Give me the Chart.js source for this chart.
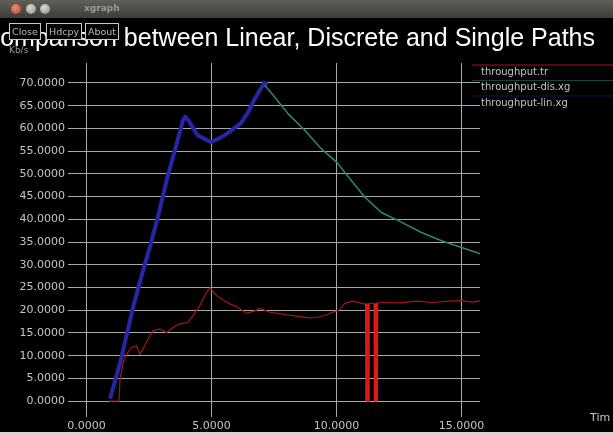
<!DOCTYPE html>
<html>
<head>
<meta charset="utf-8">
<script src="https://cdn.jsdelivr.net/npm/chart.js@4.4.1/dist/chart.umd.min.js"></script>
<style>
  html, body { margin: 0; padding: 0; background: #000; }
  #win { position: relative; width: 613px; height: 435px; background: #000; overflow: hidden; font-family: 'DejaVu Sans', sans-serif; }
  #chart { position: absolute; left: 0; top: 0; }
  #titlebar { position: absolute; left: 0; top: 0; width: 613px; height: 18px; background: linear-gradient(#605f5a, #3d3d39); }
  .dot { position: absolute; top: 4px; width: 10px; height: 10px; border-radius: 50%; }
  #appname { position: absolute; left: 84px; top: 3px; font-size: 9px; font-weight: bold; color: #9c9c96; }
  #title { position: absolute; right: 18px; top: 25px; font-family: 'Liberation Sans', Arial, sans-serif; font-size: 25px; line-height: 25px; color: #fff; white-space: nowrap; }
  .btn { position: absolute; top: 23px; height: 15px; border: 1px solid #c8c8c8; background: #000; color: #b8b8b8; font-size: 9.5px; line-height: 15px; padding: 0 2px; }
  #bottom { position: absolute; left: 0; bottom: 0; width: 613px; height: 3px; background: #d4d4d4; }
</style>
</head>
<body>
<div id="win">
  <canvas id="chart" width="613" height="435"></canvas>
  <div id="title">Comparison between Linear, Discrete and Single Paths</div>
  <div id="titlebar">
    <div class="dot" style="left:11px;background:radial-gradient(circle at 40% 35%, #f08a70, #c2412c);"></div>
    <div class="dot" style="left:26px;background:radial-gradient(circle at 40% 35%, #d8d8d4, #8a8a85);"></div>
    <div class="dot" style="left:40px;background:radial-gradient(circle at 40% 35%, #d8d8d4, #8a8a85);"></div>
    <div id="appname">xgraph</div>
  </div>
  <div class="btn" style="left:9px;">Close</div>
  <div class="btn" style="left:46px;">Hdcpy</div>
  <div class="btn" style="left:85px;">About</div>
  <div id="bottom"></div>
</div>
<script>
// throughput.tr
const trTime = [0.9, 1.3, 1.34, 1.47, 1.6, 1.8, 2.0, 2.13, 2.26, 2.46, 2.66, 2.93, 3.2, 3.46, 3.73, 4.06, 4.26, 4.53, 4.8, 4.95,
  5.2, 5.45, 5.73, 6.0, 6.4, 6.7, 6.95, 7.3, 7.65, 8.0, 8.54, 8.9, 9.2, 9.55, 9.87, 10.13, 10.33, 10.66, 11.06,
  11.19, 11.2, 11.27, 11.28, 11.53, 11.54, 11.61, 11.62, 12.0, 12.5, 13.2, 13.85, 14.5, 15.0, 15.44, 15.77];
const trRate = [0, 0, 4.8, 8.5, 10.3, 11.8, 12.2, 10.3, 11.4, 13.6, 15.5, 15.9, 15.1, 16.2, 17.0, 17.3, 18.8, 21.0, 24.0, 24.9,
  23.2, 22.3, 21.4, 20.8, 19.3, 19.8, 20.4, 19.6, 19.3, 19.0, 18.6, 18.3, 18.4, 18.9, 19.6, 20.1, 21.5, 22.0, 21.4,
  21.4, 0, 0, 21.5, 21.5, 0, 0, 21.6, 21.7, 21.6, 22.0, 21.7, 22.0, 22.1, 21.8, 22.1];

// throughput-dis.xg
const disTime = [7.13, 7.47, 8.07, 8.73, 9.4, 10.0, 10.6, 11.13, 11.8, 12.47, 13.4, 14.2, 15.0, 15.6, 15.76];
const disRate = [69.5, 67.3, 63.2, 59.6, 55.5, 52.6, 48.5, 44.9, 41.5, 39.7, 37.1, 35.3, 33.8, 32.7, 32.4];

// throughput-lin.xg
const linTime = [0.94, 1.35, 1.87, 2.2, 2.54, 2.9, 3.21, 3.55, 3.87, 3.95, 4.1, 4.44, 4.97, 5.3, 5.64, 6.17, 6.45, 6.71, 7.0, 7.11, 7.24];
const linRate = [0.5, 8.5, 20.8, 27.5, 34.0, 41.5, 48.7, 55.5, 62.0, 62.5, 61.6, 58.5, 57.0, 57.8, 58.9, 61.1, 63.4, 66.3, 69.0, 70.0, 69.6];

const xTicks = [0, 5, 10, 15];
const yTicks = [0, 5, 10, 15, 20, 25, 30, 35, 40, 45, 50, 55, 60, 65, 70];

const gridColor = '#a8a8a8';
const labelColor = '#c4c4c4';
const tickFont = { family: 'DejaVu Sans', size: 11 };

function points(xs, ys) {
  return xs.map((x, i) => ({ x, y: ys[i] }));
}

// drops to zero in the trace show as bright, heavier strokes
function isDrop(seg) {
  return Math.abs(seg.p1.parsed.x - seg.p0.parsed.x) < 0.02;
}

// xgraph style legend: a line over each name, right of the plot
const xgraphLegend = {
  id: 'xgraphLegend',
  afterDraw(chart) {
    const ctx = chart.ctx;
    const left = chart.chartArea.right;
    ctx.save();
    ctx.font = '10px "DejaVu Sans"';
    ctx.textBaseline = 'middle';
    chart.data.datasets.forEach((ds, i) => {
      const y = 65 + i * 15.5;
      ctx.strokeStyle = ds.borderColor;
      ctx.globalAlpha = i === 0 ? 1 : 0.5;
      ctx.lineWidth = 1;
      ctx.beginPath();
      ctx.moveTo(left - 8, y);
      ctx.lineTo(chart.width, y);
      ctx.stroke();
      ctx.globalAlpha = 1;
      ctx.fillStyle = labelColor;
      ctx.fillText(ds.label, left + 1, y + 7);
    });
    ctx.font = '9px "DejaVu Sans"';
    ctx.fillStyle = '#9a9a9a';
    ctx.fillText('Kb/s', 9, 51);
    ctx.font = '11px "DejaVu Sans"';
    ctx.fillStyle = labelColor;
    ctx.fillText('Tim', 590, 418);
    ctx.restore();
  },
};

new Chart(document.getElementById('chart'), {
  type: 'line',
  data: {
    datasets: [
      {
        label: 'throughput.tr',
        data: points(trTime, trRate),
        borderColor: '#a3161a',
        borderWidth: 1.2,
        segment: {
          borderColor: (seg) => (isDrop(seg) ? '#e0181c' : undefined),
          borderWidth: (seg) => (isDrop(seg) ? 2.5 : undefined),
        },
      },
      { label: 'throughput-dis.xg', data: points(disTime, disRate), borderColor: '#2d8866', borderWidth: 1.5 },
      { label: 'throughput-lin.xg', data: points(linTime, linRate), borderColor: '#2626a6', borderWidth: 4 },
    ],
  },
  options: {
    responsive: false,
    animation: false,
    devicePixelRatio: 1,
    elements: {
      point: { radius: 0 },
      line: { tension: 0 },
    },
    layout: { padding: { top: 63, right: 133, left: 0, bottom: 0 } },
    plugins: {
      legend: { display: false },
      tooltip: { enabled: false },
    },
    scales: {
      x: {
        type: 'linear',
        min: -0.74,
        max: 15.74,
        afterBuildTicks: (scale) => {
          scale.ticks = xTicks.map((v) => ({ value: v }));
        },
        afterFit: (scale) => {
          scale.height = 18;
        },
        grid: { color: gridColor, drawTicks: false },
        border: { display: false },
        ticks: {
          color: labelColor,
          font: tickFont,
          padding: 3,
          maxRotation: 0,
          autoSkip: false,
          callback: (v) => Number(v).toFixed(4),
        },
      },
      y: {
        type: 'linear',
        min: -3.5,
        max: 74.4,
        afterBuildTicks: (scale) => {
          scale.ticks = yTicks.map((v) => ({ value: v }));
        },
        afterFit: (scale) => {
          scale.width = 68;
        },
        grid: { color: gridColor, drawTicks: false },
        border: { display: false },
        ticks: {
          color: labelColor,
          font: tickFont,
          padding: 3,
          autoSkip: false,
          callback: (v) => Number(v).toFixed(4),
        },
      },
    },
  },
  plugins: [xgraphLegend],
});
</script>
</body>
</html>
